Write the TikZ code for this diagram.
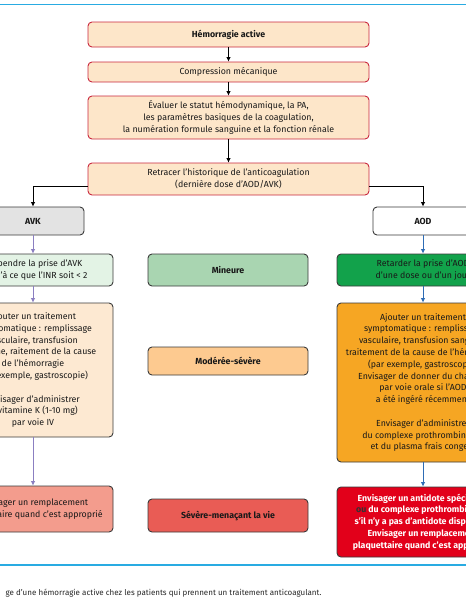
\documentclass[tikz,border=0pt]{standalone}
\usepackage{fontspec}
\setmainfont{Fira Sans}
\usetikzlibrary{positioning, arrows.meta}
\definecolor{peach}{HTML}{FDE6C9}
\definecolor{crimson}{HTML}{C9283E}
\definecolor{lightpeach}{HTML}{FDE9D2}
\definecolor{mint}{HTML}{E3F3E5}
\definecolor{greybox}{HTML}{E3E3E3}
\definecolor{minor}{HTML}{A9D5B1}
\definecolor{moderate}{HTML}{FDCA90}
\definecolor{severe}{HTML}{E95C55}
\definecolor{aodgreen}{HTML}{12A24B}
\definecolor{aodorange}{HTML}{F6A623}
\definecolor{aodred}{HTML}{E2001A}
\definecolor{salmon}{HTML}{F39C8D}
\definecolor{edge}{HTML}{3A3A3A}
\definecolor{rule}{HTML}{29ABE2}
\definecolor{avkline}{HTML}{8B7FC1}
\definecolor{aodline}{HTML}{2E6CB5}
\newcommand\boxfont{\fontsize{8.8}{11.8}\selectfont}
\tikzset{
	frame/.style={
		rectangle, draw=edge, line width=0.9pt,
		rounded corners=4pt, align=center, inner sep=1pt,
		font=\boxfont, text=black!90,
	},
	step top/.style={frame, draw=crimson, fill=peach, minimum width=281pt},
	avk col/.style={frame, minimum width=160pt},
	aod col/.style={frame, minimum width=172pt},
	level/.style={frame, minimum width=160pt, font=\boxfont\bfseries},
	line/.style={draw, -{Latex[length=4.5pt,width=4.5pt]}, line width=0.7pt},
}
\begin{document}
\begin{tikzpicture}[x=1pt, y=-1pt]
\useasboundingbox (0,0) rectangle (466,600);
\clip (0,0) rectangle (466,600);

\draw [rule, line width=1.2pt] (0,4.5) -- (466,4.5);
\draw [rule, line width=1.2pt] (0,565) -- (466,565);

% tronc commun
\node [step top, minimum height=25pt, font=\boxfont\bfseries] (hem) at (228.5,34.5) {Hémorragie active};
\node [step top, minimum height=20pt] (comp) at (228.5,72) {Compression mécanique};
\node [step top, minimum height=43pt] (eval) at (228.5,117.5) {Évaluer le statut hémodynamique, la PA,\\ les paramètres basiques de la coagulation,\\ la numération formule sanguine et la fonction rénale};
\node [step top, minimum height=32pt] (hist) at (228.5,179) {Retracer l'historique de l'anticoagulation\\ (dernière dose d'AOD/AVK)};

% colonne AVK
\node [frame, fill=greybox, minimum width=102pt, minimum height=28pt, font=\boxfont\bfseries] (avk) at (33,221) {AVK};
\node [avk col, fill=mint, minimum height=32pt] (avkstop) at (33,270) {Suspendre la prise d'AVK\\ jusqu'à ce que l'INR soit < 2};
\node [avk col, fill=lightpeach, minimum height=134pt] (avktt) at (33,370) {Ajouter un traitement\\ symptomatique : remplissage\\ vasculaire, transfusion\\ sanguine, raitement de la cause\\ de l'hémorragie\\ (par exemple, gastroscopie)\\[11.8pt] Envisager d'administrer\\ la vitamine K (1-10 mg)\\ par voie IV};
\node [avk col, fill=salmon, minimum height=46pt] (avkplq) at (33,509) {Envisager un remplacement\\ plaquettaire quand c'est approprié};

% niveaux de gravite
\node [level, fill=minor, minimum height=32pt] (mineure) at (228,270) {Mineure};
\node [level, fill=moderate, minimum height=28pt] (moderee) at (228,361) {Modérée-sévère};
\node [level, fill=severe, minimum height=33pt] (severe) at (228,515.5) {Sévère-menaçant la vie};

% colonne AOD
\node [frame, fill=white, minimum width=100pt, minimum height=28pt, font=\boxfont\bfseries] (aod) at (423,221) {AOD};
\node [aod col, fill=aodgreen, minimum height=32pt] (aodstop) at (423,270) {Retarder la prise d'AOD\\ d'une dose ou d'un jour};
\node [aod col, fill=aodorange, minimum height=159pt] (aodtt) at (423,382.5) {Ajouter un traitement\\ symptomatique : remplissage\\ vasculaire, transfusion sanguine\\ traitement de la cause de l'hémorragie\\ (par exemple, gastroscopie)\\ Envisager de donner du charbon\\ par voie orale si l'AOD\\ a été ingéré récemment\\[11.8pt] Envisager d'administrer\\ du complexe prothrombinique\\ et du plasma frais congelé};
\node [aod col, fill=aodred, draw=edge, minimum height=70pt, text=white, font=\boxfont\bfseries] (aodanti) at (423,522) {Envisager un antidote spécifique\\ \textcolor{black!80}{ou} du complexe prothrombinique\\ s'il n'y a pas d'antidote disponible\\ Envisager un remplacement\\ plaquettaire quand c'est approprié};

\node [anchor=base east, font=\fontsize{8}{10}\selectfont, text=black!85] (caption) at (325,595) {ge d'une hémorragie active chez les patients qui prennent un traitement anticoagulant.};

\path [line] (hem) -- (comp);
\path [line] (comp) -- (eval);
\path [line] (eval) -- (hist);
\path [line] ([yshift=-7pt]hist.west) -| (avk);
\path [line] ([yshift=-7pt]hist.east) -| (aod);

\path [line, avkline] (avk) -- (avkstop);
\path [line, avkline] (avkstop) -- (avktt);
\path [line, avkline] (avktt) -- (avkplq);
\path [line, aodline] (aod) -- (aodstop);
\path [line, aodline] (aodstop) -- (aodtt);
\path [line, aodline] (aodtt) -- (aodanti);
\end{tikzpicture}
\end{document}
